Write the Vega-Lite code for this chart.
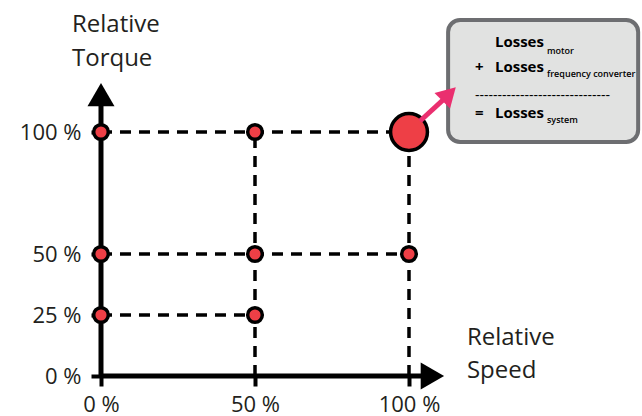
{
  "$schema": "https://vega.github.io/schema/vega-lite/v6.json",
  "width": 642,
  "height": 416,
  "autosize": {"type": "none"},
  "padding": 0,
  "background": "white",
  "config": {"view": {"stroke": null}, "font": "Open Sans"},
  "encoding": {
    "x": {
      "field": "x", "type": "quantitative",
      "scale": {"domain": [-32.79, 175.65], "nice": false, "zero": false},
      "axis": {
        "values": [0, 50, 100], "labelExpr": "datum.value + ' %'", "offset": -40,
        "domain": false, "grid": false, "tickSize": 10, "tickWidth": 4, "tickColor": "#000",
        "labelFontSize": 22, "labelColor": "#231f20", "labelPadding": 8, "title": null,
        "labelFont": "Open Sans", "labelFlush": false, "labelOverlap": false
      }
    },
    "y": {
      "field": "y", "type": "quantitative",
      "scale": {"domain": [-16.39, 154.1], "nice": false, "zero": false},
      "axis": {
        "values": [0, 25, 50, 100], "labelExpr": "datum.value + ' %'", "offset": -101,
        "domain": false, "grid": false, "tickSize": 10, "tickWidth": 4, "tickColor": "#000",
        "labelFontSize": 22, "labelColor": "#231f20", "labelPadding": 10, "title": null,
        "labelFont": "Open Sans", "labelFlush": false, "labelOverlap": false
      }
    }
  },
  "layer": [
    {
      "data": {"values": [
        {"x": 0, "x2": 100, "y": 100, "y2": 100},
        {"x": 0, "x2": 100, "y": 50, "y2": 50},
        {"x": 0, "x2": 50, "y": 25, "y2": 25},
        {"x": 50, "x2": 50, "y": 0, "y2": 100},
        {"x": 100, "x2": 100, "y": 0, "y2": 100}
      ]},
      "mark": {"type": "rule", "color": "#000", "strokeWidth": 3.5, "strokeDash": [11, 8]},
      "encoding": {"x2": {"field": "x2"}, "y2": {"field": "y2"}}
    },
    {
      "data": {"values": [
        {"x": 0, "x2": 0, "y": 0, "y2": 112},
        {"x": 0, "x2": 105, "y": 0, "y2": 0}
      ]},
      "mark": {"type": "rule", "color": "#000", "strokeWidth": 5},
      "encoding": {"x2": {"field": "x2"}, "y2": {"field": "y2"}}
    },
    {
      "data": {"values": [{"x": 0, "y": 115.3}]},
      "mark": {"type": "point", "shape": "triangle-up", "filled": true, "color": "#000", "opacity": 1, "size": 729}
    },
    {
      "data": {"values": [{"x": 107.6, "y": 0}]},
      "mark": {"type": "point", "shape": "triangle-right", "filled": true, "color": "#000", "opacity": 1, "size": 729}
    },
    {
      "data": {"values": [
        {"x": 0, "y": 100}, {"x": 50, "y": 100},
        {"x": 0, "y": 50}, {"x": 50, "y": 50}, {"x": 100, "y": 50},
        {"x": 0, "y": 25}, {"x": 50, "y": 25}
      ]},
      "mark": {"type": "circle", "fill": "#ee3f46", "stroke": "#000", "strokeWidth": 3.5, "opacity": 1, "size": 214}
    },
    {
      "data": {"values": [{"x": 100, "y": 100}]},
      "mark": {"type": "circle", "fill": "#ee3f46", "stroke": "#000", "strokeWidth": 3.5, "opacity": 1, "size": 1360}
    },
    {
      "data": {"values": [{"x": 112.7, "x2": 174.4, "y": 95.9, "y2": 145.9}]},
      "mark": {"type": "rect", "fill": "#e1e2e1", "stroke": "#6d6e71", "strokeWidth": 4, "cornerRadius": 12},
      "encoding": {"x2": {"field": "x2"}, "y2": {"field": "y2"}}
    },
    {
      "data": {"values": [{"x": 103.6, "x2": 111.7, "y": 104.5, "y2": 113.9}]},
      "mark": {"type": "rule", "color": "#ea2f6f", "strokeWidth": 5},
      "encoding": {"x2": {"field": "x2"}, "y2": {"field": "y2"}}
    },
    {
      "data": {"values": [{"x": 113.0, "y": 115.6}]},
      "mark": {"type": "point", "shape": "triangle-up", "angle": 45, "filled": true, "color": "#ea2f6f", "opacity": 1, "size": 484}
    },
    {
      "data": {"values": [
        {"x": -9.42, "y": 141.0, "t": "Relative"},
        {"x": -9.42, "y": 127.05, "t": "Torque"},
        {"x": 118.8, "y": 12.7, "t": "Relative"},
        {"x": 118.8, "y": -0.82, "t": "Speed"}
      ]},
      "mark": {"type": "text", "align": "left", "baseline": "alphabetic", "fontSize": 24, "font": "Open Sans", "color": "#231f20"},
      "encoding": {"text": {"field": "t"}}
    },
    {
      "data": {"values": [
        {"x": 127.9, "y": 134.8, "t": "Losses"},
        {"x": 127.9, "y": 124.6, "t": "Losses"},
        {"x": 127.9, "y": 105.7, "t": "Losses"},
        {"x": 121.4, "y": 124.6, "t": "+"},
        {"x": 121.4, "y": 105.7, "t": "="}
      ]},
      "mark": {"type": "text", "align": "left", "baseline": "alphabetic", "fontSize": 15, "fontWeight": "bold", "font": "Open Sans", "color": "#000"},
      "encoding": {"text": {"field": "t"}}
    },
    {
      "data": {"values": [
        {"x": 144.8, "y": 132.0, "t": "motor"},
        {"x": 144.8, "y": 122.5, "t": "frequency converter"},
        {"x": 144.8, "y": 103.7, "t": "system"}
      ]},
      "mark": {"type": "text", "align": "left", "baseline": "alphabetic", "fontSize": 9, "fontWeight": 600, "font": "Open Sans", "color": "#000"},
      "encoding": {"text": {"field": "t"}}
    },
    {
      "data": {"values": [
        {"x": 121.4, "y": 113.0, "t": "------------------------------"}
      ]},
      "mark": {"type": "text", "align": "left", "baseline": "alphabetic", "fontSize": 14, "font": "Open Sans", "color": "#000"},
      "encoding": {"text": {"field": "t"}}
    }
  ]
}
